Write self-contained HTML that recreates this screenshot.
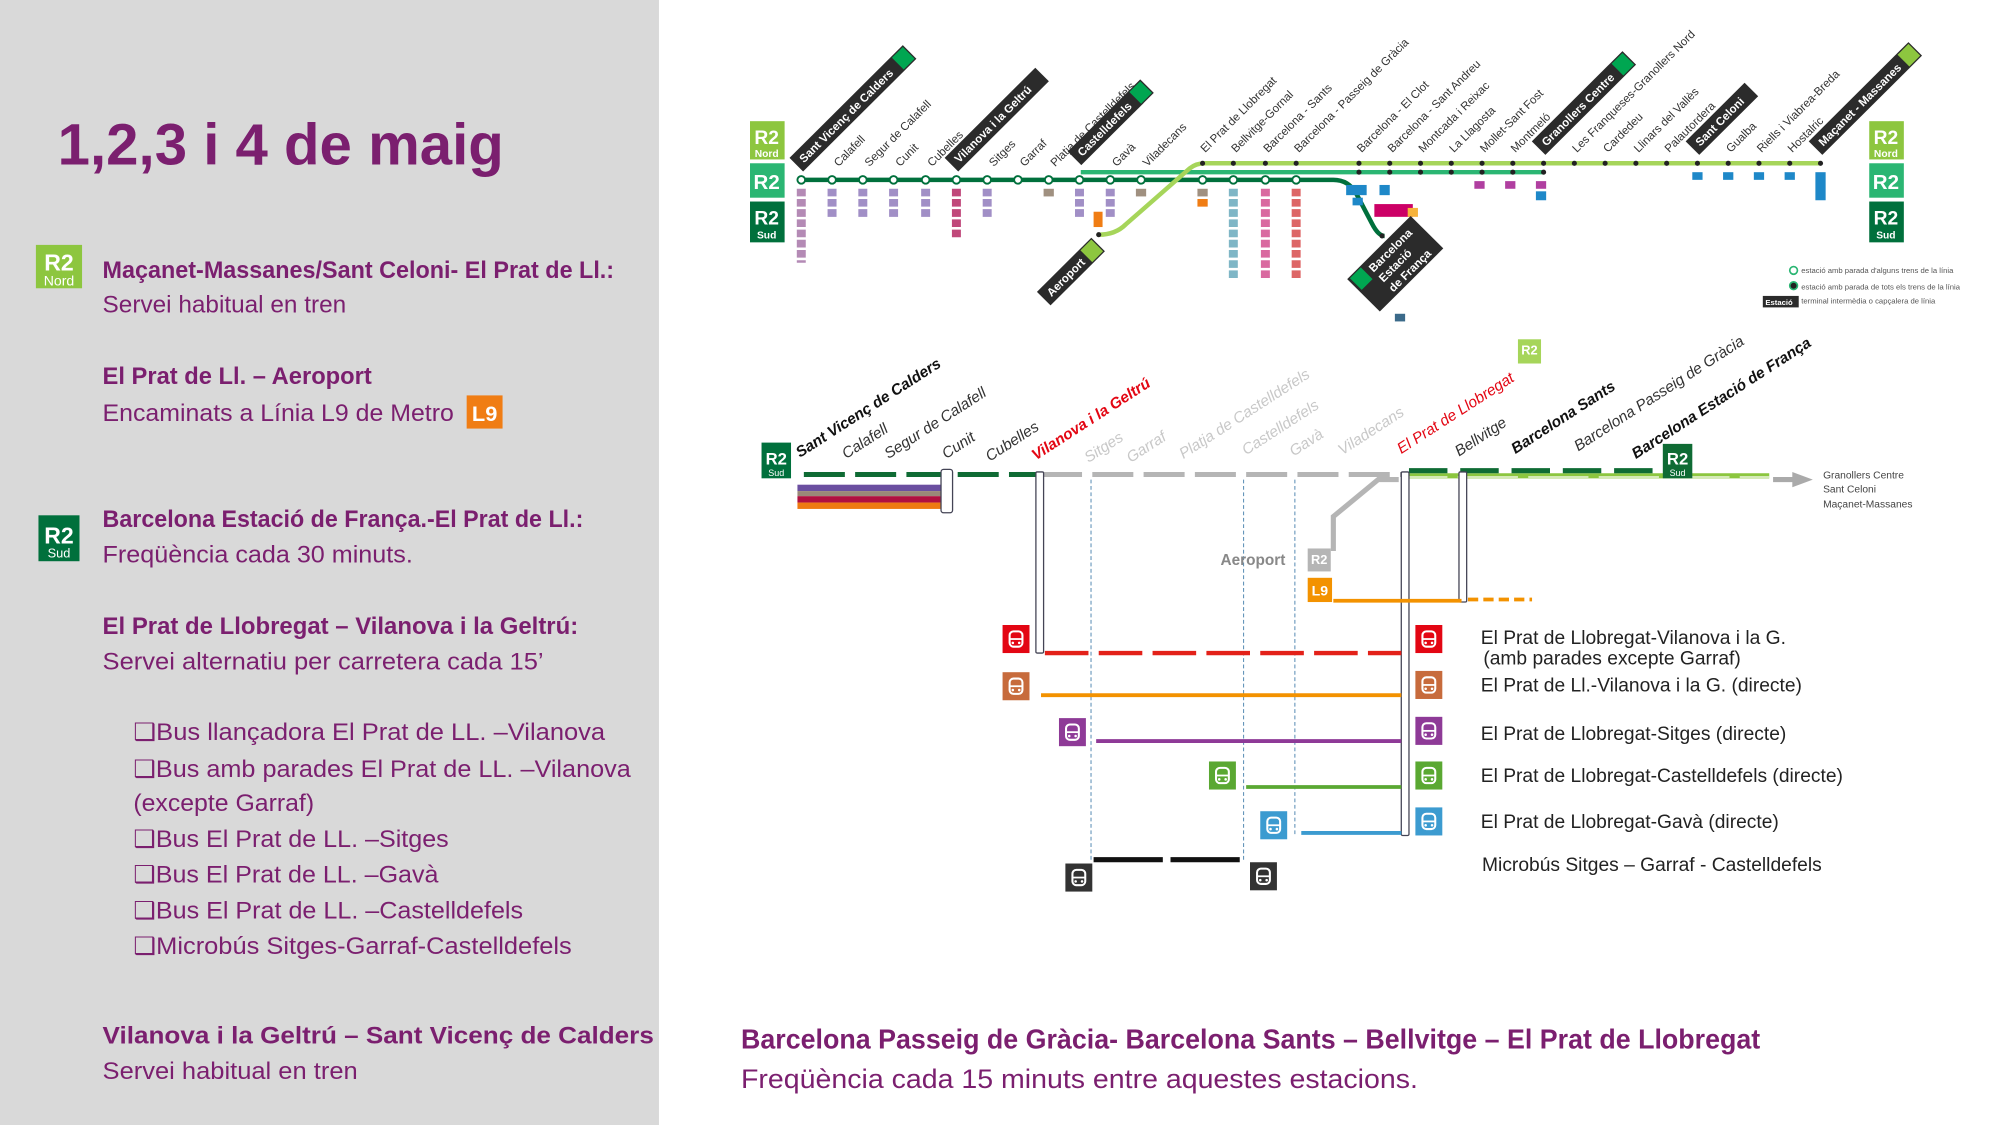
<!DOCTYPE html>
<html><head><meta charset="utf-8"><style>
html,body{margin:0;padding:0;background:#fff;}
svg{display:block;}
.p{fill:#7b1f6f;font-family:"Liberation Sans",sans-serif;}
.lb{font-family:"Liberation Sans",sans-serif;font-size:9px;fill:#333;}
.bx{font-family:"Liberation Sans",sans-serif;font-size:9px;font-weight:bold;fill:#fff;}
.sl{font-family:"Liberation Sans",sans-serif;font-size:12px;font-style:italic;}
.nl{font-family:"Liberation Sans Narrow","Liberation Sans",sans-serif;font-size:15px;fill:#222;}
</style></head><body>
<svg width="2000" height="1125" viewBox="0 0 1560 882" preserveAspectRatio="none" xmlns="http://www.w3.org/2000/svg">
<rect x="0" y="0" width="1560" height="882" fill="#fff"/>
<rect x="0" y="0" width="514" height="882" fill="#d9d9d9"/>
<!-- left text -->
<text x="45" y="129" class="p" font-size="46" font-weight="bold" textLength="348" lengthAdjust="spacingAndGlyphs">1,2,3 i 4 de maig</text>
<rect x="28" y="192" width="36" height="34" fill="#8dc63f"/>
<text x="46" y="212" font-family="Liberation Sans" font-weight="bold" font-size="18" fill="#fff" text-anchor="middle">R2</text>
<text x="46" y="224" font-family="Liberation Sans" font-size="11" fill="#fff" text-anchor="middle">Nord</text>
<text x="80" y="218" class="p" font-size="19" font-weight="bold" textLength="399" lengthAdjust="spacingAndGlyphs">Maçanet-Massanes/Sant Celoni- El Prat de Ll.:</text>
<text x="80" y="245" class="p" font-size="19">Servei habitual en tren</text>
<text x="80" y="301" class="p" font-size="19" font-weight="bold" textLength="210" lengthAdjust="spacingAndGlyphs">El Prat de Ll. – Aeroport</text>
<text x="80" y="330" class="p" font-size="19" textLength="274" lengthAdjust="spacingAndGlyphs">Encaminats a Línia L9 de Metro</text>
<rect x="364" y="310" width="28" height="26" fill="#f07d14"/>
<text x="378" y="330" font-family="Liberation Sans" font-weight="bold" font-size="17" fill="#fff" text-anchor="middle">L9</text>
<rect x="30" y="404" width="32" height="36" fill="#00703c"/>
<text x="46" y="426" font-family="Liberation Sans" font-weight="bold" font-size="18" fill="#fff" text-anchor="middle">R2</text>
<text x="46" y="437" font-family="Liberation Sans" font-size="10" fill="#fff" text-anchor="middle">Sud</text>
<text x="80" y="413" class="p" font-size="19" font-weight="bold" textLength="375" lengthAdjust="spacingAndGlyphs">Barcelona Estació de França.-El Prat de Ll.:</text>
<text x="80" y="441" class="p" font-size="19" textLength="242" lengthAdjust="spacingAndGlyphs">Freqüència cada 30 minuts.</text>
<text x="80" y="497" class="p" font-size="19" font-weight="bold" textLength="371" lengthAdjust="spacingAndGlyphs">El Prat de Llobregat – Vilanova i la Geltrú:</text>
<text x="80" y="525" class="p" font-size="19" textLength="344" lengthAdjust="spacingAndGlyphs">Servei alternatiu per carretera cada 15’</text>
<g class="p" font-size="19">
<text x="104" y="580" textLength="368" lengthAdjust="spacingAndGlyphs">❑Bus llançadora El Prat de LL. –Vilanova</text>
<text x="104" y="609" textLength="388" lengthAdjust="spacingAndGlyphs">❑Bus amb parades El Prat de LL. –Vilanova</text>
<text x="104" y="636" textLength="141" lengthAdjust="spacingAndGlyphs">(excepte Garraf)</text>
<text x="104" y="664" textLength="246" lengthAdjust="spacingAndGlyphs">❑Bus El Prat de LL. –Sitges</text>
<text x="104" y="692" textLength="238" lengthAdjust="spacingAndGlyphs">❑Bus El Prat de LL. –Gavà</text>
<text x="104" y="720" textLength="304" lengthAdjust="spacingAndGlyphs">❑Bus El Prat de LL. –Castelldefels</text>
<text x="104" y="748" textLength="342" lengthAdjust="spacingAndGlyphs">❑Microbús Sitges-Garraf-Castelldefels</text>
</g>
<text x="80" y="818" class="p" font-size="19" font-weight="bold" textLength="430" lengthAdjust="spacingAndGlyphs">Vilanova i la Geltrú – Sant Vicenç de Calders</text>
<text x="80" y="846" class="p" font-size="19" textLength="199" lengthAdjust="spacingAndGlyphs">Servei habitual en tren</text>
<!-- bottom right -->
<text x="578" y="822" class="p" font-size="22" font-weight="bold" textLength="795" lengthAdjust="spacingAndGlyphs">Barcelona Passeig de Gràcia- Barcelona Sants – Bellvitge – El Prat de Llobregat</text>
<text x="578" y="853" class="p" font-size="21" textLength="528" lengthAdjust="spacingAndGlyphs">Freqüència cada 15 minuts entre aquestes estacions.</text>

<!-- TOP MAP -->
<g font-family="Liberation Sans" font-weight="bold" fill="#fff" text-anchor="middle">
<rect x="585" y="95" width="27" height="30" fill="#8dc63f"/><text x="598" y="113" font-size="15">R2</text><text x="598" y="123" font-size="8">Nord</text>
<rect x="585" y="128" width="27" height="27" fill="#2bb673"/><text x="598" y="148" font-size="16">R2</text>
<rect x="585" y="158" width="27" height="32" fill="#00703c"/><text x="598" y="176" font-size="15">R2</text><text x="598" y="187" font-size="8">Sud</text>
<rect x="1458" y="95" width="27" height="30" fill="#8dc63f"/><text x="1471" y="113" font-size="15">R2</text><text x="1471" y="123" font-size="8">Nord</text>
<rect x="1458" y="128" width="27" height="27" fill="#2bb673"/><text x="1471" y="148" font-size="16">R2</text>
<rect x="1458" y="158" width="27" height="32" fill="#00703c"/><text x="1471" y="176" font-size="15">R2</text><text x="1471" y="187" font-size="8">Sud</text>
</g>
<path d="M625 141 H1040 Q1052 141 1058 152 L1070 175 Q1075 185 1080 185" stroke="#00703c" stroke-width="3.5" fill="none"/>
<path d="M843 135 H1205" stroke="#2bb673" stroke-width="3.5" fill="none"/>
<path d="M857 184 Q870 184 878 176 L928 132 Q933 128 940 128 H1420" stroke="#a6d55a" stroke-width="3.5" fill="none"/>
<g fill="#fff" stroke="#00703c" stroke-width="1.5">
<circle cx="625" cy="141" r="3"/><circle cx="649" cy="141" r="3"/><circle cx="673" cy="141" r="3"/><circle cx="697" cy="141" r="3"/><circle cx="722" cy="141" r="3"/><circle cx="746" cy="141" r="3"/><circle cx="770" cy="141" r="3"/><circle cx="794" cy="141" r="3"/><circle cx="818" cy="141" r="3"/><circle cx="842" cy="141" r="3"/><circle cx="866" cy="141" r="3"/><circle cx="890" cy="141" r="3"/>
<circle cx="938" cy="141" r="3"/><circle cx="962" cy="141" r="3"/><circle cx="987" cy="141" r="3"/><circle cx="1011" cy="141" r="3"/>
</g>
<g fill="#222">
<circle cx="938" cy="128" r="2"/><circle cx="962" cy="128" r="2"/><circle cx="987" cy="128" r="2"/><circle cx="1011" cy="128" r="2"/>
<circle cx="1060" cy="128" r="2"/><circle cx="1084" cy="128" r="2"/><circle cx="1108" cy="128" r="2"/><circle cx="1132" cy="128" r="2"/><circle cx="1156" cy="128" r="2"/><circle cx="1180" cy="128" r="2"/><circle cx="1204" cy="128" r="2"/><circle cx="1228" cy="128" r="2"/><circle cx="1252" cy="128" r="2"/><circle cx="1276" cy="128" r="2"/><circle cx="1300" cy="128" r="2"/><circle cx="1324" cy="128" r="2"/><circle cx="1348" cy="128" r="2"/><circle cx="1372" cy="128" r="2"/><circle cx="1396" cy="128" r="2"/><circle cx="1420" cy="128" r="2"/>
<circle cx="1060" cy="135" r="2"/><circle cx="1084" cy="135" r="2"/><circle cx="1108" cy="135" r="2"/><circle cx="1132" cy="135" r="2"/><circle cx="1156" cy="135" r="2"/><circle cx="1180" cy="135" r="2"/><circle cx="1204" cy="135" r="2"/>
<circle cx="857" cy="184" r="2"/><circle cx="1078" cy="185" r="2"/>
</g>
<!-- route chips (dashed small labels) -->
<g stroke-width="7" fill="none">
<path d="M625 148 V206" stroke="#b48ab5" stroke-dasharray="6,2"/>
<path d="M649 148 V172" stroke="#a18fc6" stroke-dasharray="6,2"/><path d="M673 148 V172" stroke="#a18fc6" stroke-dasharray="6,2"/><path d="M697 148 V172" stroke="#a18fc6" stroke-dasharray="6,2"/><path d="M722 148 V172" stroke="#a18fc6" stroke-dasharray="6,2"/>
<path d="M746 148 V188" stroke="#c0487a" stroke-dasharray="6,2"/><path d="M770 148 V172" stroke="#a18fc6" stroke-dasharray="6,2"/>
<path d="M842 148 V172" stroke="#a18fc6" stroke-dasharray="6,2"/><path d="M866 148 V172" stroke="#a18fc6" stroke-dasharray="6,2"/>
<path d="M962 148 V218" stroke="#7fb6c6" stroke-dasharray="6,2"/><path d="M987 148 V220" stroke="#d96aa0" stroke-dasharray="6,2"/><path d="M1011 148 V218" stroke="#d66" stroke-dasharray="6,2"/>
</g>
<g>
<rect x="814" y="148" width="8" height="6" fill="#a09080"/><rect x="886" y="148" width="8" height="6" fill="#a09080"/>
<rect x="853" y="166" width="7" height="12" fill="#f07d14"/>
<rect x="934" y="148" width="8" height="6" fill="#a09080"/><rect x="934" y="156" width="8" height="6" fill="#f07d14"/>
<rect x="1050" y="145" width="16" height="8" fill="#1e88c8"/><rect x="1055" y="155" width="8" height="6" fill="#1e88c8"/>
<rect x="1076" y="145" width="8" height="8" fill="#1e88c8"/><rect x="1072" y="160" width="30" height="10" fill="#c06"/><rect x="1098" y="163" width="8" height="7" fill="#f6b33c"/>
<rect x="1150" y="142" width="8" height="6" fill="#b03fa0"/><rect x="1174" y="142" width="8" height="6" fill="#b03fa0"/><rect x="1198" y="142" width="8" height="6" fill="#b03fa0"/><rect x="1198" y="150" width="8" height="7" fill="#1e88c8"/>
<rect x="1320" y="135" width="8" height="6" fill="#1e88c8"/><rect x="1344" y="135" width="8" height="6" fill="#1e88c8"/><rect x="1368" y="135" width="8" height="6" fill="#1e88c8"/><rect x="1392" y="135" width="8" height="6" fill="#1e88c8"/><rect x="1416" y="135" width="8" height="22" fill="#1e88c8"/>
<rect x="1088" y="246" width="8" height="6" fill="#3b6a8a"/>
</g>
<!-- top labels -->
<g class="lb">
<text transform="translate(654,131) rotate(-45)">Calafell</text>
<text transform="translate(678,131) rotate(-45)">Segur de Calafell</text>
<text transform="translate(702,131) rotate(-45)">Cunit</text>
<text transform="translate(727,131) rotate(-45)">Cubelles</text>
<text transform="translate(775,131) rotate(-45)">Sitges</text>
<text transform="translate(799,131) rotate(-45)">Garraf</text>
<text transform="translate(823,131) rotate(-45)">Platja de Castelldefels</text>
<text transform="translate(871,131) rotate(-45)">Gavà</text>
<text transform="translate(895,131) rotate(-45)">Viladecans</text>
<text transform="translate(940,120) rotate(-45)">El Prat de Llobregat</text>
<text transform="translate(964,120) rotate(-45)">Bellvitge-Gornal</text>
<text transform="translate(989,120) rotate(-45)">Barcelona - Sants</text>
<text transform="translate(1013,120) rotate(-45)">Barcelona - Passeig de Gràcia</text>
<text transform="translate(1062,120) rotate(-45)">Barcelona - El Clot</text>
<text transform="translate(1086,120) rotate(-45)">Barcelona - Sant Andreu</text>
<text transform="translate(1110,120) rotate(-45)">Montcada i Reixac</text>
<text transform="translate(1134,120) rotate(-45)">La Llagosta</text>
<text transform="translate(1158,120) rotate(-45)">Mollet-Sant Fost</text>
<text transform="translate(1182,120) rotate(-45)">Montmeló</text>
<text transform="translate(1230,120) rotate(-45)">Les Franqueses-Granollers Nord</text>
<text transform="translate(1254,120) rotate(-45)">Cardedeu</text>
<text transform="translate(1278,120) rotate(-45)">Llinars del Vallès</text>
<text transform="translate(1302,120) rotate(-45)">Palautordera</text>
<text transform="translate(1350,120) rotate(-45)">Gualba</text>
<text transform="translate(1374,120) rotate(-45)">Riells i Viabrea-Breda</text>
<text transform="translate(1398,120) rotate(-45)">Hostalric</text>
</g>
<g>
<g transform="translate(625,133) rotate(-45)"><rect x="0" y="-13" width="125" height="15" fill="#2b2b2b"/><text x="5" y="-2" class="bx">Sant Vicenç de Calders</text><rect x="112" y="-12" width="12" height="13" fill="#00a651"/></g>
<g transform="translate(746,133) rotate(-45)"><rect x="0" y="-13" width="100" height="15" fill="#2b2b2b"/><text x="5" y="-2" class="bx">Vilanova i la Geltrú</text></g>
<g transform="translate(842,128) rotate(-45)"><rect x="0" y="-13" width="80" height="15" fill="#2b2b2b"/><text x="5" y="-2" class="bx">Castelldefels</text><rect x="67" y="-12" width="12" height="13" fill="#00a651"/></g>
<g transform="translate(1204,120) rotate(-45)"><rect x="0" y="-13" width="100" height="15" fill="#2b2b2b"/><text x="5" y="-2" class="bx">Granollers Centre</text><rect x="87" y="-12" width="12" height="13" fill="#00a651"/></g>
<g transform="translate(1324,120) rotate(-45)"><rect x="0" y="-13" width="65" height="15" fill="#2b2b2b"/><text x="5" y="-2" class="bx">Sant Celoni</text></g>
<g transform="translate(1420,120) rotate(-45)"><rect x="0" y="-13" width="110" height="15" fill="#2b2b2b"/><text x="5" y="-2" class="bx">Maçanet - Massanes</text><rect x="97" y="-12" width="12" height="13" fill="#8dc63f"/></g>
<g transform="translate(818,238) rotate(-45)"><rect x="0" y="-13" width="60" height="15" fill="#2b2b2b"/><text x="5" y="-2" class="bx">Aeroport</text><rect x="47" y="-12" width="12" height="13" fill="#8dc63f"/></g>
<g transform="translate(1060,228) rotate(-45)"><rect x="0" y="-13" width="70" height="36" fill="#2b2b2b"/><text x="18" y="-2" class="bx">Barcelona</text><text x="18" y="9" class="bx">Estació</text><text x="18" y="20" class="bx">de França</text><rect x="2" y="-12" width="12" height="13" fill="#00a651"/></g>
</g>
<g font-family="Liberation Sans" font-size="6" fill="#555">
<circle cx="1399" cy="212" r="3" fill="#fff" stroke="#2bb673" stroke-width="1.3"/><text x="1405" y="214">estació amb parada d'alguns trens de la línia</text>
<circle cx="1399" cy="224" r="3" fill="#222" stroke="#2bb673" stroke-width="1.3"/><text x="1405" y="227">estació amb parada de tots els trens de la línia</text>
<rect x="1375" y="232" width="28" height="9" fill="#2b2b2b"/><text x="1377" y="239" fill="#fff" font-weight="bold">Estació</text><text x="1405" y="238">terminal intermèdia o capçalera de línia</text>
</g>

<!-- LOWER DIAGRAM -->
<rect x="594" y="347" width="23" height="28" fill="#00703c"/>
<text x="605.5" y="364" font-family="Liberation Sans" font-weight="bold" font-size="13" fill="#fff" text-anchor="middle">R2</text>
<text x="605.5" y="373" font-family="Liberation Sans" font-size="7" fill="#fff" text-anchor="middle">Sud</text>
<path d="M627 372 H810" stroke="#0f6b34" stroke-width="4" stroke-dasharray="32,8"/>
<path d="M812 372 H1093" stroke="#b5b5b5" stroke-width="4" stroke-dasharray="32,8"/>
<path d="M1097 373 H1380" stroke="#8cc63f" stroke-width="4"/>
<path d="M1097 374 H1380" stroke="#fff" stroke-width="1" stroke-dasharray="47,8" stroke-dashoffset="-40"/>
<path d="M1099 369 H1295" stroke="#0f6b34" stroke-width="4" stroke-dasharray="30,10"/>
<rect x="1297" y="348" width="23" height="27" fill="#0f6b34"/>
<text x="1308.5" y="364" font-family="Liberation Sans" font-weight="bold" font-size="13" fill="#fff" text-anchor="middle">R2</text>
<text x="1308.5" y="373" font-family="Liberation Sans" font-size="7" fill="#fff" text-anchor="middle">Sud</text>
<path d="M1383 376 H1400" stroke="#aaa" stroke-width="4"/><path d="M1398 370 L1414 376 L1398 382 Z" fill="#aaa"/>
<g font-family="Liberation Sans Narrow, Liberation Sans" font-size="8" fill="#444"><text x="1422" y="375">Granollers Centre</text><text x="1422" y="386">Sant Celoni</text><text x="1422" y="398">Maçanet-Massanes</text></g>
<rect x="622" y="380" width="112" height="5" fill="#6b4fa0"/>
<rect x="622" y="385" width="112" height="4" fill="#9a8878"/>
<rect x="622" y="389" width="112" height="5" fill="#b01040"/>
<rect x="622" y="394" width="112" height="5" fill="#ee7a12"/>
<rect x="734" y="368" width="9" height="34" rx="2" fill="#fff" stroke="#445" stroke-width="1"/>
<rect x="808" y="370" width="6" height="142" rx="1" fill="#fff" stroke="#445" stroke-width="1"/>
<rect x="1093" y="370" width="6" height="285" rx="1" fill="#fff" stroke="#445" stroke-width="1"/>
<rect x="1138" y="370" width="6" height="102" rx="1" fill="#fff" stroke="#445" stroke-width="1"/>
<g stroke="#5a8db5" stroke-width="0.8" stroke-dasharray="3,2"><path d="M851 376 V675"/><path d="M970 376 V675"/><path d="M1010 376 V655"/></g>
<path d="M1091 376 H1075 L1040 405 V432" stroke="#b5b5b5" stroke-width="4" fill="none"/>
<text x="952" y="443" font-family="Liberation Sans Narrow, Liberation Sans" font-size="12" font-weight="bold" fill="#888">Aeroport</text>
<rect x="1020" y="430" width="18" height="18" fill="#b5b5b5"/><text x="1029" y="442" font-family="Liberation Sans" font-size="10" font-weight="bold" fill="#fff" text-anchor="middle">R2</text>
<rect x="1020" y="453" width="19" height="19" fill="#f39200"/><text x="1029.5" y="467" font-family="Liberation Sans" font-size="11" font-weight="bold" fill="#fff" text-anchor="middle">L9</text>
<path d="M1040 471 H1140" stroke="#f39200" stroke-width="3"/><path d="M1145 470 H1195" stroke="#f39200" stroke-width="3" stroke-dasharray="8,4"/>
<path d="M815 512 H1093" stroke="#e32119" stroke-width="3.5" stroke-dasharray="34,8"/>
<path d="M812 545 H1093" stroke="#f39200" stroke-width="3"/>
<path d="M855 581 H1093" stroke="#8e3a97" stroke-width="3"/>
<path d="M972 617 H1093" stroke="#5aa832" stroke-width="3"/>
<path d="M1015 653 H1093" stroke="#3c9bd0" stroke-width="3"/>
<path d="M853 674 H968" stroke="#111" stroke-width="4" stroke-dasharray="54,6"/>
<g>
<defs><g id="bus"><rect x="5" y="4" width="10" height="12" rx="3" fill="none" stroke="#fff" stroke-width="1.6"/><path d="M5 10 H15" stroke="#fff" stroke-width="1.4"/><circle cx="7.5" cy="13" r="1" fill="#fff"/><circle cx="12.5" cy="13" r="1" fill="#fff"/></g></defs>
<rect x="782" y="490" width="21" height="22" fill="#e30613"/><use href="#bus" x="782.5" y="491"/>
<rect x="1104" y="490" width="21" height="22" fill="#e30613"/><use href="#bus" x="1104.5" y="491"/>
<rect x="782" y="527" width="21" height="22" fill="#c76b3c"/><use href="#bus" x="782.5" y="528"/>
<rect x="1104" y="526" width="21" height="22" fill="#c76b3c"/><use href="#bus" x="1104.5" y="527"/>
<rect x="826" y="563" width="21" height="22" fill="#8e3a97"/><use href="#bus" x="826.5" y="564"/>
<rect x="1104" y="562" width="21" height="22" fill="#8e3a97"/><use href="#bus" x="1104.5" y="563"/>
<rect x="943" y="597" width="21" height="22" fill="#5aa832"/><use href="#bus" x="943.5" y="598"/>
<rect x="1104" y="597" width="21" height="22" fill="#5aa832"/><use href="#bus" x="1104.5" y="598"/>
<rect x="983" y="636" width="21" height="22" fill="#3c9bd0"/><use href="#bus" x="983.5" y="637"/>
<rect x="1104" y="633" width="21" height="22" fill="#3c9bd0"/><use href="#bus" x="1104.5" y="634"/>
<rect x="831" y="677" width="21" height="22" fill="#333"/><use href="#bus" x="831.5" y="678"/>
<rect x="975" y="676" width="21" height="22" fill="#333"/><use href="#bus" x="975.5" y="677"/>
</g>
<text x="1155" y="505" class="nl">El Prat de Llobregat-Vilanova i la G.</text>
<text x="1157" y="521" class="nl" font-size="10.5">(amb parades excepte Garraf)</text>
<text x="1155" y="542" class="nl">El Prat de Ll.-Vilanova i la G. (directe)</text>
<text x="1155" y="580" class="nl">El Prat de Llobregat-Sitges (directe)</text>
<text x="1155" y="613" class="nl">El Prat de Llobregat-Castelldefels (directe)</text>
<text x="1155" y="649" class="nl">El Prat de Llobregat-Gavà (directe)</text>
<text x="1156" y="683" class="nl">Microbús Sitges – Garraf - Castelldefels</text>
<!-- lower rotated labels -->
<g class="sl">
<text transform="translate(624,359) rotate(-33)" font-weight="bold" fill="#111">Sant Vicenç de Calders</text>
<text transform="translate(660,360) rotate(-33)" fill="#333">Calafell</text>
<text transform="translate(693,360) rotate(-33)" fill="#333">Segur de Calafell</text>
<text transform="translate(738,360) rotate(-33)" fill="#333">Cunit</text>
<text transform="translate(772,362) rotate(-33)" fill="#333">Cubelles</text>
<text transform="translate(808,361) rotate(-33)" font-weight="bold" fill="#e30613">Vilanova i la Geltrú</text>
<text transform="translate(849,363) rotate(-33)" fill="#c8c8c8">Sitges</text>
<text transform="translate(882,363) rotate(-33)" fill="#c8c8c8">Garraf</text>
<text transform="translate(923,360) rotate(-33)" fill="#c8c8c8">Platja de Castelldefels</text>
<text transform="translate(972,357) rotate(-33)" fill="#c8c8c8">Castelldefels</text>
<text transform="translate(1009,358) rotate(-33)" fill="#c8c8c8">Gavà</text>
<text transform="translate(1047,357) rotate(-33)" fill="#c8c8c8">Viladecans</text>
<text transform="translate(1093,356) rotate(-33)" fill="#e30613">El Prat de Llobregat</text>
<text transform="translate(1138,358) rotate(-33)" fill="#333">Bellvitge</text>
<text transform="translate(1182,356) rotate(-33)" font-weight="bold" fill="#111">Barcelona Sants</text>
<text transform="translate(1231,354) rotate(-33)" fill="#333">Barcelona Passeig de Gràcia</text>
<text transform="translate(1276,360) rotate(-33)" font-weight="bold" fill="#111">Barcelona Estació de França</text>
</g>
<rect x="1184" y="266" width="18" height="19" fill="#a6d55a"/>
<text x="1193" y="278" font-family="Liberation Sans" font-size="10" font-weight="bold" fill="#fff" text-anchor="middle">R2</text>
</svg>
</body></html>
